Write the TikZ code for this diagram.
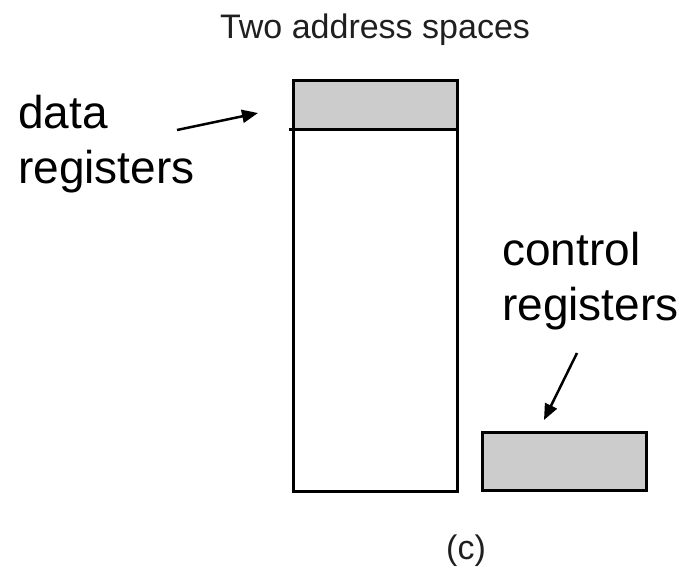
\documentclass[tikz,border=0pt]{standalone}
\usepackage{fontspec}
\setmainfont{Liberation Sans}
\usetikzlibrary{arrows.meta}
\definecolor{regfill}{HTML}{CCCCCC}
\tikzset{
  box/.style={draw=black, line width=3pt},
  regbox/.style={box, fill=regfill},
  label/.style={font=\fontsize{46}{55}\selectfont, anchor=base west, inner sep=0pt},
  caption/.style={font=\fontsize{34}{40}\selectfont, text=black!88, anchor=base, inner sep=0pt},
  pointer/.style={line width=2.5pt, -{Triangle[length=16pt,width=13pt]}}
}
\begin{document}
\begin{tikzpicture}[x=1pt, y=-1pt]
  \useasboundingbox (0,0) rectangle (691,568);

  % title and sub-figure tag
  \node[caption] (title) at (375,38) {Two address spaces};
  \node[caption] (tag) at (466,559) {(c)};

  % memory address space with data registers on top
  \draw[regbox] (293,80) rectangle (457,129);
  \draw[box] (293,129) rectangle (457,491);
  \draw[line width=3pt] (289,129) -- (293,129);

  % separate I/O space with control registers
  \draw[regbox] (482,432) rectangle (646,490);

  % labels
  \node[label] (datalbl) at (18,128) {data};
  \node[label] (datalbl2) at (18,183) {registers};
  \node[label] (ctrllbl) at (502,265) {control};
  \node[label] (ctrllbl2) at (502,320) {registers};

  % pointers
  \coordinate (dfrom) at (177,130);
  \coordinate (dto) at (258,113);
  \coordinate (cfrom) at (577,353);
  \coordinate (cto) at (544,420);
  \draw[pointer] (dfrom) -- (dto);
  \draw[pointer] (cfrom) -- (cto);
\end{tikzpicture}
\end{document}
